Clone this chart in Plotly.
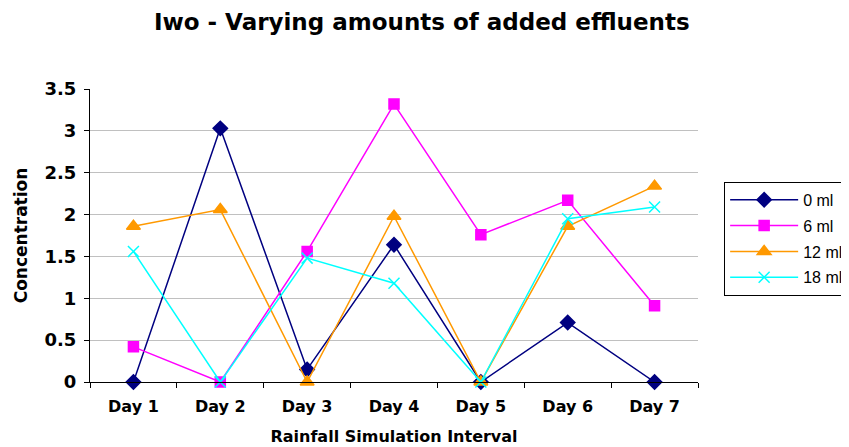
import plotly.graph_objects as go

days = ["Day 1", "Day 2", "Day 3", "Day 4", "Day 5", "Day 6", "Day 7"]
ml_0 = [0, 3.03, 0.15, 1.64, 0, 0.71, 0]
ml_6 = [0.42, 0, 1.56, 3.32, 1.76, 2.17, 0.91]
ml_12 = [1.86, 2.06, 0, 1.98, 0, 1.86, 2.34]
ml_18 = [1.56, 0, 1.48, 1.18, 0, 1.95, 2.09]
y_ticks = [0, 0.5, 1, 1.5, 2, 2.5, 3, 3.5]

series = [
    ("0 ml", ml_0, "#000080", "diamond", 11),
    ("6 ml", ml_6, "#FF00FF", "square", 10),
    ("12 ml", ml_12, "#FF9900", "triangle-up", 12),
    ("18 ml", ml_18, "#00FFFF", "x-thin-open", 11),
]

fig = go.Figure()
for name, vals, colour, symbol, size in series:
    fig.add_trace(go.Scatter(
        x=days, y=vals, name=name, legendgroup=name, mode="lines+markers",
        line={"color": colour, "width": 1.5},
        marker={"symbol": symbol, "size": size, "color": colour,
                "line": {"color": colour, "width": 1.5}},
        cliponaxis=False,
    ))

heavy = "DejaVu Sans"
# page body has an 8px margin, so the figure is shrunk by that much
fig.update_layout(
    width=841, height=439,
    margin={"l": 82, "r": 151, "t": 81, "b": 65, "autoexpand": False},
    plot_bgcolor="white", paper_bgcolor="white",
    title={"text": "<b>Iwo - Varying amounts of added effluents</b>",
           "x": 0.492, "xref": "container", "xanchor": "center",
           "y": 1 - 14 / 439, "yref": "container", "yanchor": "middle",
           "font": {"family": heavy, "size": 23, "color": "black"}},
    legend={"x": 1.043, "y": 0.683, "xanchor": "left", "yanchor": "top",
            "bordercolor": "black", "borderwidth": 1, "bgcolor": "white",
            "font": {"family": "Liberation Sans", "size": 16, "color": "black"},
            "tracegroupgap": 2, "itemwidth": 68},
    showlegend=True,
)
fig.update_xaxes(
    type="category", showline=True, linecolor="black", linewidth=1,
    ticks="outside", tickson="boundaries", ticklen=5, tickcolor="black",
    showgrid=False, range=[-0.5, 6.5],
    tickvals=days, ticktext=[f"<b>{d}</b>" for d in days],
    tickfont={"family": heavy, "size": 16, "color": "black"},
    ticklabelstandoff=10,
    title={"text": "<b>Rainfall Simulation Interval</b>",
           "font": {"family": heavy, "size": 16, "color": "black"}, "standoff": 15},
)
fig.update_yaxes(
    range=[0, 3.5],
    tickvals=y_ticks, ticktext=[f"<b>{v:g}</b>" for v in y_ticks],
    showline=True, linecolor="black", linewidth=1,
    ticks="outside", ticklen=5, tickcolor="black",
    showgrid=True, gridcolor="#C0C0C0", gridwidth=1, zeroline=False,
    tickfont={"family": heavy, "size": 18, "color": "black"},
    ticklabelstandoff=4,
    title={"text": "<b>Concentration</b>",
           "font": {"family": heavy, "size": 17, "color": "black"}, "standoff": 12},
)

fig.write_html("out.html")
